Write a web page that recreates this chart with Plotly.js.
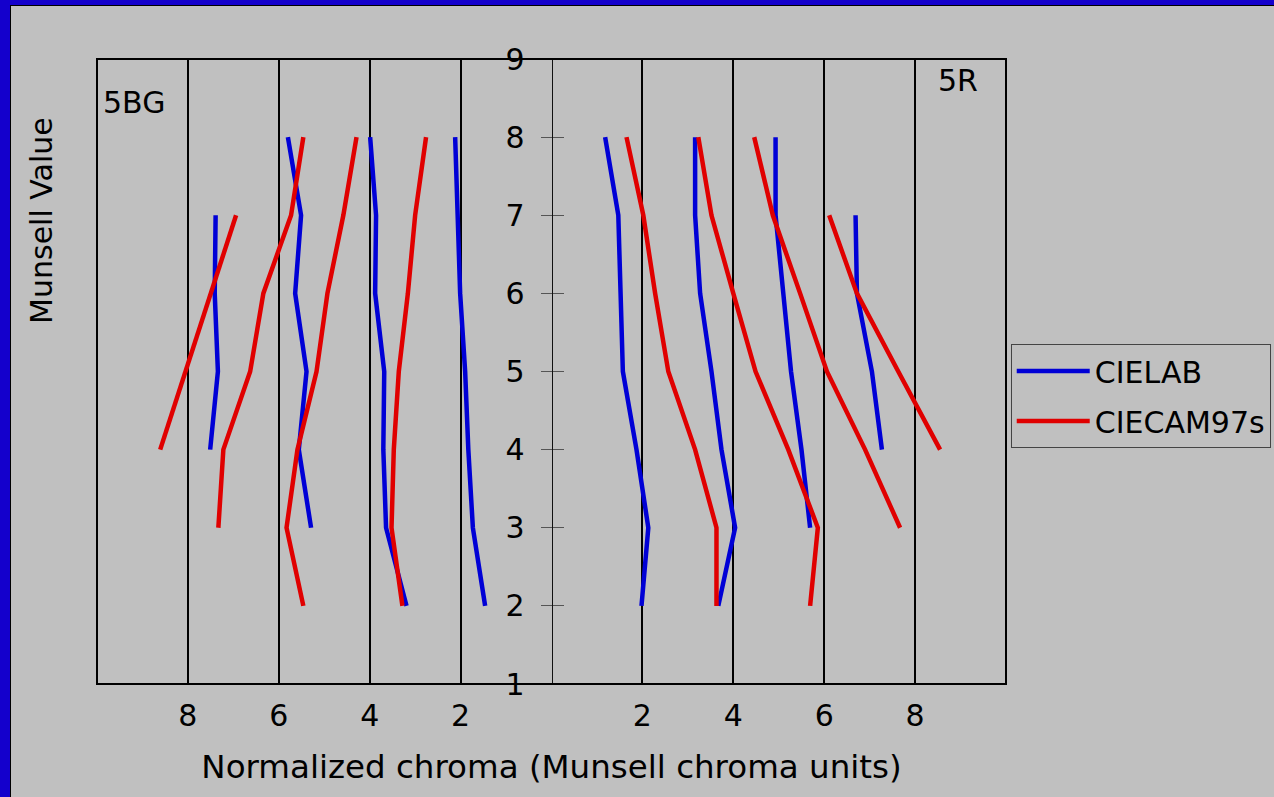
<!DOCTYPE html>
<html>
<head>
<meta charset="utf-8">
<script src="https://cdn.plot.ly/plotly-3.0.1.min.js"></script>
<style>
  html, body { margin: 0; padding: 0; width: 1274px; height: 797px; overflow: hidden; background: #1400CC; }
  #frame { position: absolute; left: 10px; top: 5px; width: 1264px; height: 792px; border-left: 1px solid #000; border-top: 1px solid #000; background: #C0C0C0; }
  #chart { position: absolute; left: 0; top: 0; width: 1263px; height: 791px; }
</style>
</head>
<body>
<div id="frame"><div id="chart"></div></div>
<script>
// Munsell Value levels (rows of each line below)
const munsellValues = [8, 7, 6, 5, 4, 3, 2];

// Normalized chroma; negative = 5BG side (left), positive = 5R side (right)
// CIELAB
const cielab5BG_c8 = [null, -7.39, -7.41, -7.34, -7.51, null, null];
const cielab5BG_c6 = [-5.80, -5.51, -5.64, -5.39, -5.56, -5.29, null];
const cielab5BG_c4 = [-3.99, -3.86, -3.88, -3.68, -3.70, -3.64, -3.19];
const cielab5BG_c2 = [-2.12, -2.07, -2.01, -1.90, -1.83, -1.73, -1.46];
const cielab5R_c2  = [1.18, 1.47, 1.52, 1.57, 1.87, 2.13, 1.98];
const cielab5R_c4  = [3.16, 3.16, 3.27, 3.52, 3.74, 4.04, 3.67];
const cielab5R_c6  = [4.93, 4.93, 5.10, 5.27, 5.50, 5.69, null];
const cielab5R_c8  = [null, 6.69, 6.72, 7.05, 7.27, null, null];
// CIECAM97s
const ciecam5BG_c8 = [null, -6.94, -7.50, -8.05, -8.61, null, null];
const ciecam5BG_c6 = [-5.46, -5.73, -6.34, -6.63, -7.22, -7.33, null];
const ciecam5BG_c4 = [-4.29, -4.58, -4.93, -5.17, -5.59, -5.83, -5.46];
const ciecam5BG_c2 = [-2.76, -3.00, -3.16, -3.36, -3.47, -3.52, -3.28];
const ciecam5R_c2  = [1.65, 2.02, 2.28, 2.57, 3.16, 3.63, 3.63];
const ciecam5R_c4  = [3.23, 3.52, 4.00, 4.49, 5.21, 5.86, 5.69];
const ciecam5R_c6  = [4.46, 4.87, 5.47, 6.06, 6.90, 7.67, null];
const ciecam5R_c8  = [null, 6.11, 6.72, 7.63, 8.55, null, null];

const xTickVals = [-8, -6, -4, -2, 2, 4, 6, 8];
const xTickText = ['8', '6', '4', '2', '2', '4', '6', '8'];
const yTickVals = [1, 2, 3, 4, 5, 6, 7, 8, 9];

const seriesNames = ['CIELAB', 'CIECAM97s'];
const seriesColors = ['#0000D6', '#E00000'];
const seriesLines = [
  [cielab5BG_c8, cielab5BG_c6, cielab5BG_c4, cielab5BG_c2, cielab5R_c2, cielab5R_c4, cielab5R_c6, cielab5R_c8],
  [ciecam5BG_c8, ciecam5BG_c6, ciecam5BG_c4, ciecam5BG_c2, ciecam5R_c2, ciecam5R_c4, ciecam5R_c6, ciecam5R_c8]
];

// Join the separate lines of one series into one trace, split by gaps
function buildSeries(lines) {
  const xs = [], ys = [];
  lines.forEach(function (line) {
    line.forEach(function (v, i) {
      if (v !== null) { xs.push(v); ys.push(munsellValues[i]); }
    });
    xs.push(null); ys.push(null);
  });
  return { x: xs, y: ys };
}

const FONT = 'DejaVu Sans, Verdana, sans-serif';

const traces = seriesNames.map(function (name, k) {
  const s = buildSeries(seriesLines[k]);
  return {
    type: 'scatter', mode: 'lines', name: name, legendgroup: name,
    x: s.x, y: s.y, connectgaps: false,
    line: { color: seriesColors[k], width: 4.5 },
    xaxis: 'x', yaxis: 'y'
  };
});
// empty trace so the overlaid tick axis (inner half of the crossing ticks) is drawn
traces.unshift({ type: 'scatter', mode: 'lines', x: [], y: [], xaxis: 'x', yaxis: 'y2', showlegend: false, hoverinfo: 'skip' });

const layout = {
  width: 1263, height: 791,
  margin: { l: 86, r: 268, t: 53, b: 113, autoexpand: false },
  paper_bgcolor: '#C0C0C0', plot_bgcolor: '#C0C0C0',
  font: { family: FONT, size: 30, color: '#000' },
  showlegend: true,
  xaxis: {
    range: [-10, 10], domain: [0, 1],
    tickvals: xTickVals, ticktext: xTickText,
    ticks: '', showline: false, zeroline: false,
    showgrid: true, gridcolor: '#000', gridwidth: 2,
    tickfont: { family: FONT, size: 30, color: '#000' },
    ticklabelstandoff: 11,
    title: { text: 'Normalized chroma (Munsell chroma units)', font: { family: FONT, size: 32.5, color: '#000' }, standoff: 23 },
    fixedrange: true
  },
  yaxis: {
    range: [1, 9], anchor: 'free', position: 0.5, side: 'left',
    tickvals: yTickVals, ticks: 'outside', ticklen: 11, tickwidth: 1, tickcolor: '#555',
    showline: true, linecolor: '#111', linewidth: 1,
    showgrid: false, zeroline: false,
    tickfont: { family: FONT, size: 30, color: '#000' },
    ticklabelstandoff: 10,
    fixedrange: true
  },
  yaxis2: {
    range: [1, 9], anchor: 'free', position: 0.5, overlaying: 'y', side: 'left',
    tickvals: yTickVals, ticks: 'inside', ticklen: 11, tickwidth: 1, tickcolor: '#555',
    showticklabels: false, showline: false, showgrid: false, zeroline: false,
    fixedrange: true
  },
  legend: {
    x: 1.0052, xanchor: 'left', y: 0.544, yanchor: 'top',
    bgcolor: 'rgba(0,0,0,0)', bordercolor: '#444', borderwidth: 1,
    font: { family: FONT, size: 30, color: '#000' },
    itemwidth: 73, tracegroupgap: 8, traceorder: 'grouped'
  },
  shapes: [
    { type: 'rect', xref: 'paper', yref: 'paper', x0: 0, x1: 1, y0: 0, y1: 1,
      line: { color: '#000', width: 2 }, fillcolor: 'rgba(0,0,0,0)', layer: 'above' }
  ],
  annotations: [
    { text: '5BG', xref: 'paper', yref: 'paper', x: 0.0044, y: 0.931, xanchor: 'left', yanchor: 'middle',
      showarrow: false, font: { family: FONT, size: 30, color: '#000' } },
    { text: '5R', xref: 'paper', yref: 'paper', x: 0.947, y: 0.965, xanchor: 'center', yanchor: 'middle',
      showarrow: false, font: { family: FONT, size: 30, color: '#000' } },
    { text: 'Munsell Value', xref: 'paper', yref: 'paper', x: -0.0605, y: 0.741, xanchor: 'center', yanchor: 'middle',
      textangle: -90, showarrow: false, font: { family: FONT, size: 30, color: '#000' } }
  ]
};

Plotly.newPlot('chart', traces, layout, { displayModeBar: false, staticPlot: true });
</script>
</body>
</html>
